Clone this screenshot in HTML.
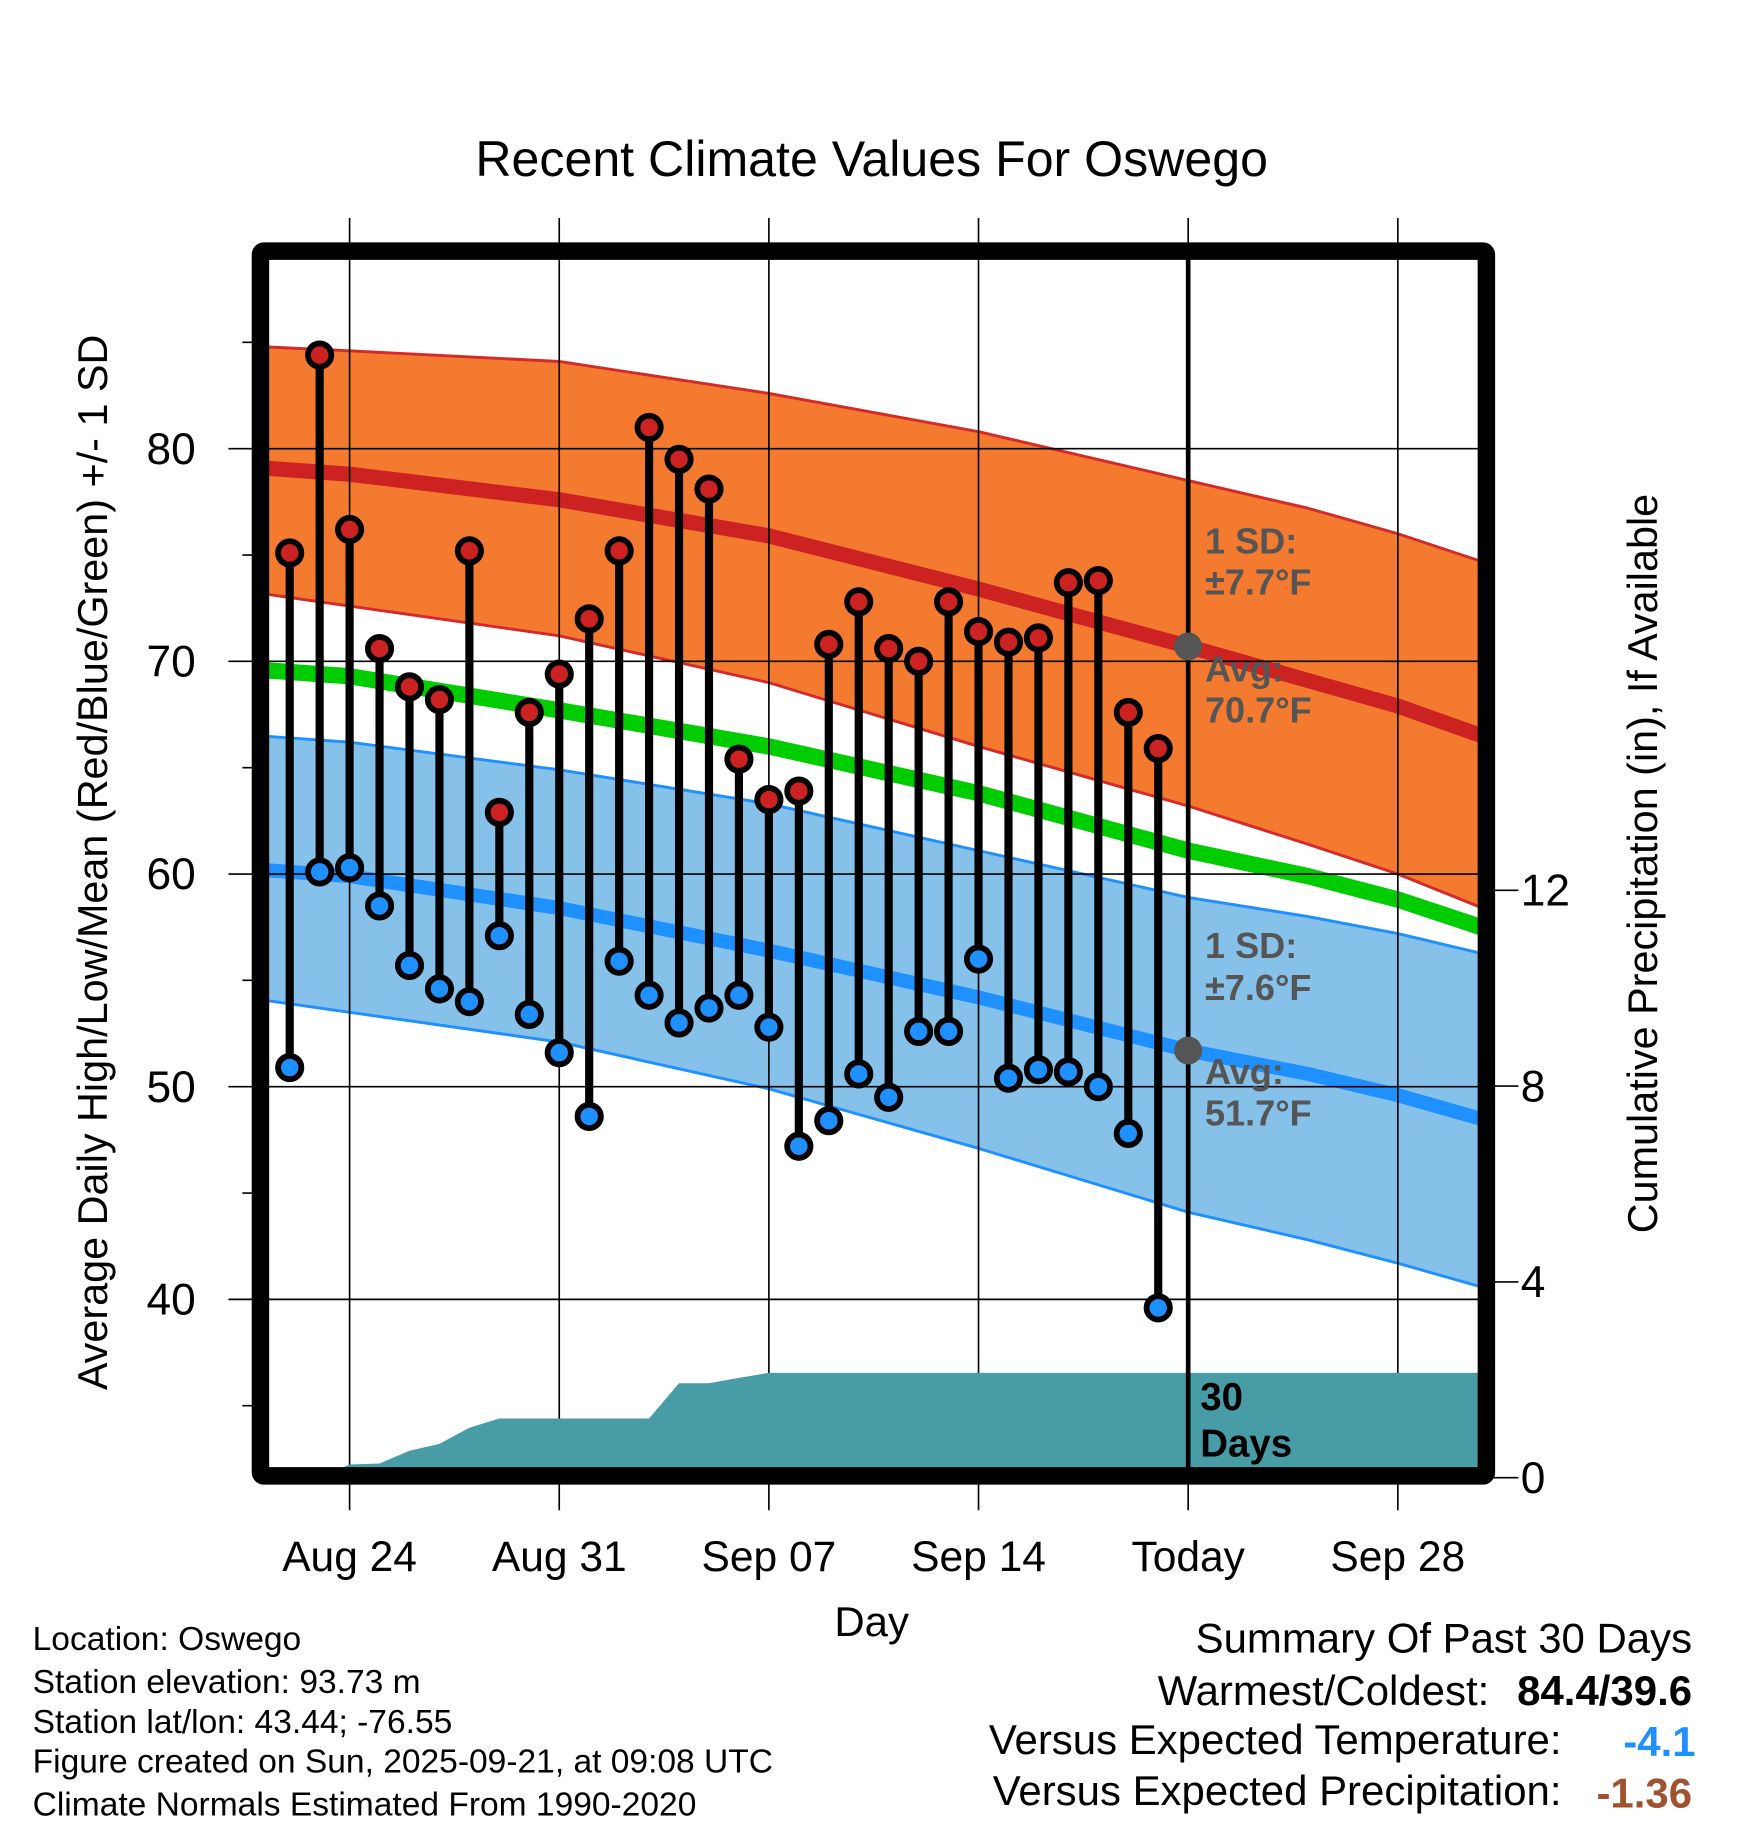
<!DOCTYPE html>
<html><head><meta charset="utf-8"><style>
html,body{margin:0;padding:0;background:#fff}
svg{display:block;font-family:"Liberation Sans",Arial,sans-serif}
</style></head><body>
<svg id="chart" width="1748" height="1828" viewBox="0 0 1500 1568.6" xmlns="http://www.w3.org/2000/svg">
<defs><clipPath id="plotclip"><rect x="223.5" y="215.5" width="1052" height="1051"/></clipPath></defs>
<rect width="1500" height="1568.6" fill="#fff"/>
<text x="748" y="151" font-size="43" text-anchor="middle">Recent Climate Values For Oswego</text>
<g id="plot" clip-path="url(#plotclip)"></g>
<g id="over"></g>
<text transform="translate(92,740) rotate(-90)" font-size="35.5" text-anchor="middle">Average Daily High/Low/Mean (Red/Blue/Green) +/- 1 SD</text>
<text transform="translate(1422,741) rotate(-90)" font-size="35.5" text-anchor="middle">Cumulative Precipitation (in), If Available</text>
<text x="748" y="1404" font-size="36" text-anchor="middle">Day</text>
<g font-size="28.8">
<text x="28" y="1416">Location: Oswego</text>
<text x="28" y="1453">Station elevation: 93.73 m</text>
<text x="28" y="1487">Station lat/lon: 43.44; -76.55</text>
<text x="28" y="1521">Figure created on Sun, 2025-09-21, at 09:08 UTC</text>
<text x="28" y="1558">Climate Normals Estimated From 1990-2020</text>
</g>
<g font-size="36">
<text x="1452" y="1418" text-anchor="end">Summary Of Past 30 Days</text>
<text x="1278" y="1463" text-anchor="end">Warmest/Coldest:</text>
<text x="1452" y="1463" text-anchor="end" font-weight="bold">84.4/39.6</text>
<text x="1340" y="1505" text-anchor="end">Versus Expected Temperature:</text>
<text x="1455" y="1507" text-anchor="end" font-weight="bold" fill="#1e90ff">-4.1</text>
<text x="1340" y="1549" text-anchor="end">Versus Expected Precipitation:</text>
<text x="1452" y="1551" text-anchor="end" font-weight="bold" fill="#a0522d">-1.36</text>
</g>
</svg>
<script>
// data: days offset from Aug 21
const normDays=[0,3,10,17,24,31,35,38,41];
const avgHigh=[79.1,78.8,77.6,75.9,73.4,70.7,69.1,67.9,66.4];
const highUpper=[84.8,84.6,84.1,82.6,80.8,78.5,77.2,76.0,74.6];
const highLower=[73.2,72.6,71.2,69.0,66.0,63.2,61.4,60.0,58.3];
const avgMean=[69.6,69.3,67.7,66.0,63.8,61.1,59.9,58.8,57.4];
const avgLow=[60.2,59.9,58.4,56.4,54.2,51.7,50.6,49.6,48.4];
const lowUpper=[66.5,66.2,64.9,63.3,61.1,58.9,58.0,57.2,56.2];
const lowLower=[54.1,53.5,52.1,49.9,47.1,44.1,42.8,41.7,40.5];
const highs=[75.1,84.4,76.2,70.6,68.8,68.2,75.2,62.9,67.6,69.4,72.0,75.2,81.0,79.5,78.1,65.4,63.5,63.9,70.8,72.8,70.6,70.0,72.8,71.4,70.9,71.1,73.7,73.8,67.6,65.9];
const lows=[50.9,60.1,60.3,58.5,55.7,54.6,54.0,57.1,53.4,51.6,48.6,55.9,54.3,53.0,53.7,54.3,52.8,47.2,48.4,50.6,49.5,52.6,52.6,56.0,50.4,50.8,50.7,50.0,47.8,39.6];
const precip=[0,0,0.27,0.29,0.55,0.69,1.02,1.21,1.21,1.21,1.21,1.21,1.21,1.93,1.93,2.04,2.14,2.14,2.14,2.14,2.14,2.14,2.14,2.14,2.14,2.14,2.14,2.14,2.14,2.14];
const xTickDays=[3,10,17,24,31,38];
const xTickLabels=["Aug 24","Aug 31","Sep 07","Sep 14","Today","Sep 28"];
const yTicks=[40,50,60,70,80];
const yMinor=[35,45,55,65,75,85];
const pTicks=[0,4,8,12];
const todayDay=31, firstDataDay=1;

const X=d=>300+(d-3)*25.7;
const Y=t=>385+(80-t)*18.25;
const P=p=>1268-p*42;
const NS="http://www.w3.org/2000/svg";
const plot=document.getElementById('plot'), over=document.getElementById('over');
function mk(tag,attrs,parent){const e=document.createElementNS(NS,tag);for(const k in attrs)e.setAttribute(k,attrs[k]);parent.appendChild(e);return e;}
function linePts(vals){return normDays.map((d,i)=>X(d)+','+Y(vals[i])).join(' ');}
function band(up,lo,fill,name){
  const pts=normDays.map((d,i)=>X(d)+','+Y(up[i])).concat(normDays.slice().reverse().map((d,j)=>{const i=normDays.length-1-j;return X(d)+','+Y(lo[i]);}));
  const e=mk('polygon',{points:pts.join(' '),fill:fill},plot);
  
  
}
function line(vals,color,w,name){
  const e=mk('polyline',{points:linePts(vals),fill:'none',stroke:color,'stroke-width':w,'stroke-linejoin':'round'},plot);
  
  
}
band(highUpper,highLower,'#f47a30','high-sd-band');
line(highUpper,'#d42a2a',2.5,'high-upper-edge');
line(highLower,'#d42a2a',2.5,'high-lower-edge');
line(avgHigh,'#cc2222',13,'avg-high-line');
band(lowUpper,lowLower,'#85c1e9','low-sd-band');
line(lowUpper,'#1e90ff',2.5,'low-upper-edge');
line(lowLower,'#1e90ff',2.5,'low-lower-edge');
line(avgLow,'#1e90ff',12,'avg-low-line');
line(avgMean,'#00cc00',14,'avg-mean-line');
// gridlines
yTicks.forEach(t=>{const e=mk('line',{x1:196,x2:1276,y1:Y(t),y2:Y(t),stroke:'#000','stroke-width':1.4},over);
  
  });
xTickDays.forEach(d=>{const e=mk('line',{x1:X(d),x2:X(d),y1:187,y2:1296,stroke:'#000','stroke-width':1.4},over);
  
  });
yMinor.forEach(t=>{const e=mk('line',{x1:208,x2:222,y1:Y(t),y2:Y(t),stroke:'#000','stroke-width':1.4},over);
  
  });
// precip area
let pp=[X(firstDataDay)+','+P(0)];
precip.forEach((v,i)=>pp.push(X(firstDataDay+i)+','+P(v)));
pp.push('1280,'+P(precip[precip.length-1]));pp.push('1280,'+P(0));
const area=mk('polygon',{points:pp.join(' '),fill:'#479ca5'},over);


// today line
const tl=mk('line',{x1:X(todayDay),x2:X(todayDay),y1:220,y2:1262,stroke:'#000','stroke-width':4},over);


// annotations
const todayHigh=avgHigh[normDays.indexOf(todayDay)], todayLow=avgLow[normDays.indexOf(todayDay)];
[[todayHigh,'today-high-marker'],[todayLow,'today-low-marker']].forEach(([v,n])=>{const c=mk('circle',{cx:X(todayDay),cy:Y(v),r:12,fill:'#555'},over);
  
  });
function txt(x,y,s,attrs,name){const e=mk('text',Object.assign({x:x,y:y},attrs),over);e.textContent=s;
  
  return e;}
const ga={'font-size':31,'font-weight':'bold',fill:'#555'};
txt(1034,475,'1 SD:',ga,'high-sd-label');
txt(1034,510,'±7.7°F',ga,'high-sd-value');
txt(1034,585,'Avg:',ga,'high-avg-label');
txt(1034,620,todayHigh.toFixed(1)+'°F',ga,'high-avg-value');
txt(1034,822,'1 SD:',ga,'low-sd-label');
txt(1034,858,'±7.6°F',ga,'low-sd-value');
txt(1034,930,'Avg:',ga,'low-avg-label');
txt(1034,966,todayLow.toFixed(1)+'°F',ga,'low-avg-value');
txt(1030,1210,'30',{'font-size':33,'font-weight':'bold'},'thirty-days-label');
txt(1030,1250,'Days',{'font-size':33,'font-weight':'bold'},'thirty-days-label-2');
// stems and markers
highs.forEach((h,i)=>{const x=X(firstDataDay+i);
  const s=mk('line',{x1:x,x2:x,y1:Y(h),y2:Y(lows[i]),stroke:'#000','stroke-width':7},over);
  
  });
highs.forEach((h,i)=>{const x=X(firstDataDay+i);
  const a=mk('circle',{cx:x,cy:Y(h),r:10,fill:'#cc2222',stroke:'#000','stroke-width':5},over);
  
  
  const b=mk('circle',{cx:x,cy:Y(lows[i]),r:10,fill:'#1e90ff',stroke:'#000','stroke-width':5},over);
  
  });
// frame
const fr=mk('rect',{x:223.5,y:215.5,width:1052,height:1051,fill:'none',stroke:'#000','stroke-width':15,rx:3},over);


// tick labels
yTicks.forEach(t=>txt(168,Y(t)+13,String(t),{'font-size':38,'text-anchor':'end'},'y-tick-label'));
pTicks.forEach(p=>{const e=mk('line',{x1:1276,x2:1303,y1:P(p),y2:P(p),stroke:'#000','stroke-width':1.4},over);
  
  
  txt(1305,P(p)+13,String(p),{'font-size':38},'y2-tick-label');});
xTickDays.forEach((d,i)=>txt(X(d),1348,xTickLabels[i],{'font-size':36.5,'text-anchor':'middle'},'x-tick-label'));
</script>
</body></html>
